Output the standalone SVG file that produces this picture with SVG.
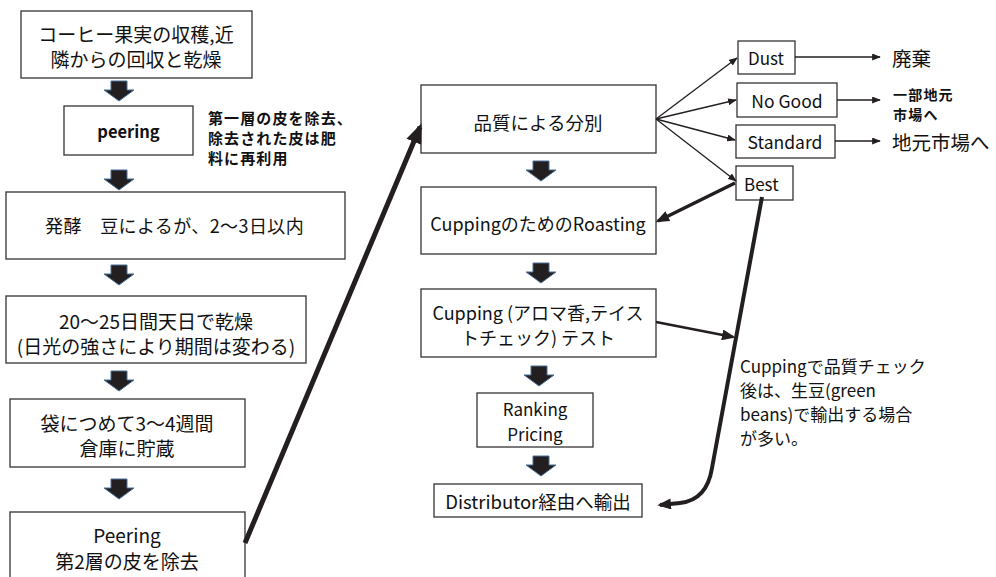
<svg xmlns="http://www.w3.org/2000/svg" width="996" height="577" viewBox="0 0 996 577">
<style>
text{font-family:"Noto Sans CJK JP","Noto Sans",sans-serif;fill:#111;dominant-baseline:central}
.box{fill:#fff;stroke:#333;stroke-width:1.3}
.c{text-anchor:middle}
.b{font-weight:bold}
.ln{fill:none;stroke:#231f20}
.blk{fill:#231f20;stroke:#4a6f98;stroke-width:1}
</style>
<defs>
<path id="down" d="M-8,0 L8,0 L8,9 L15,9 L0,20 L-15,9 L-8,9 Z"/>
<marker id="ah" viewBox="0 0 10 8" refX="9" refY="4" markerWidth="9" markerHeight="7" markerUnits="userSpaceOnUse" orient="auto"><path d="M0,0 L10,4 L0,8 Z" fill="#231f20"/></marker>
<marker id="ahm" viewBox="0 0 10 8" refX="8" refY="4" markerWidth="14" markerHeight="11" markerUnits="userSpaceOnUse" orient="auto"><path d="M0,0 L10,4 L0,8 Z" fill="#231f20"/></marker>
<marker id="ahb" viewBox="0 0 10 8" refX="8" refY="4" markerWidth="20" markerHeight="16" markerUnits="userSpaceOnUse" orient="auto"><path d="M0,0 L10,4 L0,8 Z" fill="#231f20"/></marker>
</defs>

<g id="n1"><rect class="box" x="21" y="11" width="231" height="67"/>
<text class="c" x="136" y="33" font-size="19">コーヒー果実の収穫,近</text>
<text class="c" x="136" y="58" font-size="19">隣からの回収と乾燥</text></g>

<g id="n2"><rect class="box" x="64" y="106" width="129" height="49"/>
<text class="c b" x="128.5" y="131" font-size="16.5">peering</text></g>

<g id="note1">
<text class="b" x="208" y="117" font-size="15" letter-spacing="1.1">第一層の皮を除去、</text>
<text class="b" x="208" y="137" font-size="15" letter-spacing="1.1">除去された皮は肥</text>
<text class="b" x="208" y="157" font-size="15" letter-spacing="1.1">料に再利用</text></g>

<g id="n3"><rect class="box" x="6" y="192" width="339" height="67"/>
<text x="45" y="225" font-size="18" letter-spacing="0.4">発酵　豆によるが、2〜3日以内</text></g>

<g id="n4"><rect class="box" x="6" y="296" width="300" height="67"/>
<text class="c" x="156" y="320" font-size="19">20〜25日間天日で乾燥</text>
<text class="c" x="156" y="345" font-size="19">(日光の強さにより期間は変わる)</text></g>

<g id="n5"><rect class="box" x="10" y="399" width="235" height="68"/>
<text class="c" x="127" y="422" font-size="19">袋につめて3〜4週間</text>
<text class="c" x="127" y="447" font-size="19">倉庫に貯蔵</text></g>

<g id="n6"><rect class="box" x="10" y="512" width="235" height="70"/>
<text class="c" x="127" y="534" font-size="19">Peering</text>
<text class="c" x="127" y="560" font-size="19">第2層の皮を除去</text></g>

<g id="nA"><rect class="box" x="421" y="85" width="235" height="68"/>
<text class="c" x="538" y="122" font-size="18.5">品質による分別</text></g>

<g id="nB"><rect class="box" x="421" y="187" width="235" height="67"/>
<text class="c" x="538" y="223" font-size="18">CuppingのためのRoasting</text></g>

<g id="nC"><rect class="box" x="421" y="289" width="235" height="68"/>
<text class="c" x="538" y="312" font-size="18">Cupping (アロマ香,テイス</text>
<text class="c" x="538" y="337" font-size="18">トチェック) テスト</text></g>

<g id="nD"><rect class="box" x="477" y="393" width="116" height="54"/>
<text class="c" x="535" y="408" font-size="17">Ranking</text>
<text class="c" x="535" y="433" font-size="17">Pricing</text></g>

<g id="nE"><rect class="box" x="434" y="484" width="208" height="33"/>
<text class="c" x="538" y="501" font-size="18.5">Distributor経由へ輸出</text></g>

<g id="nDust"><rect class="box" x="738" y="41" width="57" height="33"/>
<text class="c" x="766" y="57" font-size="17">Dust</text></g>
<g id="nNoGood"><rect class="box" x="737" y="83" width="100" height="34"/>
<text class="c" x="787" y="100" font-size="17.5">No Good</text></g>
<g id="nStandard"><rect class="box" x="736" y="125" width="99" height="33"/>
<text class="c" x="785" y="141" font-size="17.5">Standard</text></g>
<g id="nBest"><rect class="box" x="736" y="166" width="57" height="34"/>
<text x="744" y="183" font-size="17">Best</text></g>

<g id="outDust"><text x="892" y="57" font-size="19.5">廃棄</text></g>
<g id="outNoGood"><text class="b" x="893" y="94" font-size="14" letter-spacing="1.2">一部地元</text>
<text class="b" x="893" y="114" font-size="14" letter-spacing="1.2">市場へ</text></g>
<g id="outStandard"><text x="892" y="141" font-size="19.5">地元市場へ</text></g>

<g id="note2">
<text x="740" y="365" font-size="17">Cuppingで品質チェック</text>
<text x="740" y="389" font-size="17">後は、生豆(green</text>
<text x="740" y="413" font-size="17">beans)で輸出する場合</text>
<text x="740" y="437" font-size="17">が多い。</text></g>

<g id="connectors">
<use href="#down" class="blk" x="119" y="81"/>
<use href="#down" class="blk" x="119" y="170"/>
<use href="#down" class="blk" x="119" y="265"/>
<use href="#down" class="blk" x="119" y="371"/>
<use href="#down" class="blk" x="119" y="479"/>
<use href="#down" class="blk" x="541" y="161"/>
<use href="#down" class="blk" x="541" y="263"/>
<use href="#down" class="blk" x="539" y="366"/>
<use href="#down" class="blk" x="541" y="456"/>

<line class="ln" x1="245" y1="543" x2="420" y2="127" stroke-width="5" marker-end="url(#ahb)"/>

<line class="ln" x1="656" y1="119" x2="737" y2="58" stroke-width="1.3" marker-end="url(#ah)"/>
<line class="ln" x1="656" y1="119" x2="736" y2="100" stroke-width="1.3" marker-end="url(#ah)"/>
<line class="ln" x1="656" y1="119" x2="735" y2="140" stroke-width="1.3" marker-end="url(#ah)"/>
<line class="ln" x1="656" y1="119" x2="736" y2="181" stroke-width="1.3" marker-end="url(#ah)"/>

<line class="ln" x1="795" y1="57" x2="880" y2="57" stroke-width="1.3" marker-end="url(#ah)"/>
<line class="ln" x1="837" y1="100" x2="880" y2="100" stroke-width="1.3" marker-end="url(#ah)"/>
<line class="ln" x1="835" y1="141" x2="880" y2="141" stroke-width="1.3" marker-end="url(#ah)"/>

<line class="ln" x1="735" y1="183" x2="658" y2="221" stroke-width="3.5" marker-end="url(#ahm)"/>
<line class="ln" x1="656" y1="322" x2="733" y2="337" stroke-width="2.5" marker-end="url(#ahm)"/>
<path class="ln" d="M762,197 L712,468 Q707,500 680,503 L660,505" stroke-width="4" marker-end="url(#ahm)"/>
</g>
</svg>
